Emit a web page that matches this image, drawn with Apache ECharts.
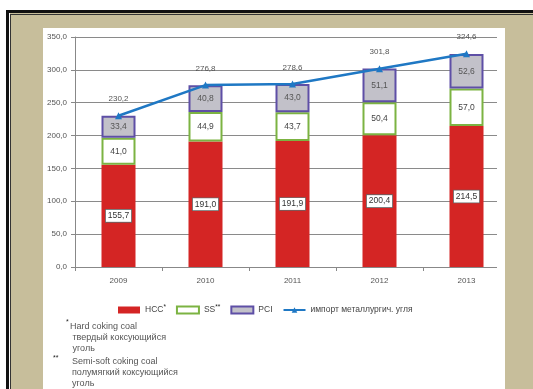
<!DOCTYPE html>
<html>
<head>
<meta charset="utf-8">
<style>
  html, body { margin: 0; padding: 0; background: #ffffff; }
  #chart { width: 533px; height: 389px; }
</style>
<script src="https://cdn.jsdelivr.net/npm/echarts@6/dist/echarts.min.js"></script>
</head>
<body>
<div id="chart"></div>
<script>
// Metallurgical coal imports by coal type, 2009–2013
var years = ['2009', '2010', '2011', '2012', '2013'];
var hccValues = [155.7, 191.0, 191.9, 200.4, 214.5];
var ssValues = [41.0, 44.9, 43.7, 50.4, 57.0];
var pciValues = [33.4, 40.8, 43.0, 51.1, 52.6];
var importTotals = [230.2, 276.8, 278.6, 301.8, 324.6];
var yTicks = { min: 0, max: 350, interval: 50 };

var seriesNames = {
  hcc: 'HCC',
  ss: 'SS',
  pci: 'PCI',
  total: 'импорт металлургич. угля'
};

var BEIGE = '#c7be9b';
var TEXT = '#444';
var FONT = 'Arial, "Liberation Sans", sans-serif';

function fmt(v) {
  return v.toFixed(1).replace('.', ',');
}

var chart = echarts.init(document.getElementById('chart'), null, { renderer: 'canvas' });

var option = {
  backgroundColor: '#ffffff',
  animation: false,
  textStyle: { fontFamily: FONT },
  grid: { left: 75, top: 37, width: 435, height: 230, containLabel: false },
  legend: {
    left: 118,
    top: 304,
    padding: 0,
    itemWidth: 22,
    itemHeight: 7,
    itemGap: 10,
    textStyle: {
      fontSize: 8.5,
      color: TEXT,
      fontFamily: FONT,
      rich: {
        sup: { fontSize: 6.5, color: '#222', verticalAlign: 'top', padding: [0, 0, 5, 0] }
      }
    },
    formatter: function (name) {
      if (name === seriesNames.hcc) return 'HCC{sup|*}';
      if (name === seriesNames.ss) return 'SS{sup|**}';
      return name;
    },
    data: [
      { name: seriesNames.hcc, icon: 'rect' },
      { name: seriesNames.ss, icon: 'rect' },
      { name: seriesNames.pci, icon: 'rect' },
      { name: seriesNames.total }
    ]
  },
  xAxis: {
    type: 'category',
    data: years,
    boundaryGap: true,
    axisLine: { lineStyle: { color: '#888', width: 1 } },
    axisTick: { show: true, length: 4, lineStyle: { color: '#888' } },
    axisLabel: { fontSize: 8, color: '#555', margin: 10, fontFamily: FONT }
  },
  yAxis: {
    type: 'value',
    min: yTicks.min,
    max: yTicks.max,
    interval: yTicks.interval,
    axisLine: { show: true, lineStyle: { color: '#888', width: 1 } },
    axisTick: { show: true, length: 4, lineStyle: { color: '#888' } },
    splitLine: { show: true, lineStyle: { color: '#8a8a8a', width: 1 } },
    axisLabel: {
      fontSize: 8,
      color: '#555',
      margin: 8,
      fontFamily: FONT,
      formatter: function (v) { return fmt(v); }
    }
  },
  series: [
    {
      name: seriesNames.hcc,
      type: 'bar',
      stack: 'coal',
      barWidth: 34,
      data: hccValues,
      itemStyle: { color: '#d42524' },
      label: {
        show: true,
        position: 'inside',
        formatter: function (p) { return fmt(p.value); },
        fontSize: 8.5,
        color: '#333',
        backgroundColor: '#ffffff',
        borderColor: '#666',
        borderWidth: 0.8,
        padding: [2, 2, 1, 2],
        fontFamily: FONT
      }
    },
    {
      name: seriesNames.ss,
      type: 'bar',
      stack: 'coal',
      barWidth: 34,
      data: ssValues,
      itemStyle: { color: '#ffffff', borderColor: '#7cb342', borderWidth: 2 },
      label: {
        show: true,
        position: 'inside',
        formatter: function (p) { return fmt(p.value); },
        fontSize: 8.5,
        color: '#444',
        fontFamily: FONT
      }
    },
    {
      name: seriesNames.pci,
      type: 'bar',
      stack: 'coal',
      barWidth: 34,
      data: pciValues,
      itemStyle: { color: '#c2c1c9', borderColor: '#5e4fa6', borderWidth: 2 },
      label: {
        show: true,
        position: 'inside',
        formatter: function (p) { return fmt(p.value); },
        fontSize: 8.5,
        color: '#555',
        fontFamily: FONT
      }
    },
    {
      name: seriesNames.total,
      type: 'line',
      data: importTotals,
      z: 5,
      symbol: 'triangle',
      symbolSize: 7,
      lineStyle: { color: '#1f78c4', width: 2.5 },
      itemStyle: { color: '#1f78c4' },
      label: {
        show: true,
        position: 'top',
        distance: 9,
        formatter: function (p) { return fmt(p.value); },
        fontSize: 8,
        color: '#555',
        fontFamily: FONT
      }
    }
  ],
  graphic: [
    // beige card inside the frame
    { type: 'rect', z: -20, shape: { x: 10, y: 13, width: 523, height: 376 }, style: { fill: BEIGE } },
    // white chart panel
    { type: 'rect', z: -10, shape: { x: 43, y: 28, width: 462, height: 361 }, style: { fill: '#ffffff' } },
    // trim grid lines at the panel's right margin
    { type: 'rect', z: 100, shape: { x: 497, y: 28, width: 8, height: 361 }, style: { fill: '#ffffff' } },
    { type: 'rect', z: 100, shape: { x: 505, y: 15, width: 28, height: 374 }, style: { fill: BEIGE } },
    // double black frame
    { type: 'rect', z: 101, shape: { x: 6, y: 10, width: 527, height: 3 }, style: { fill: '#111' } },
    { type: 'rect', z: 101, shape: { x: 6, y: 10, width: 3, height: 379 }, style: { fill: '#111' } },
    { type: 'rect', z: 101, shape: { x: 10, y: 14, width: 523, height: 1 }, style: { fill: '#333' } },
    { type: 'rect', z: 101, shape: { x: 10, y: 14, width: 1, height: 375 }, style: { fill: '#333' } },
    // footnotes
    { type: 'text', z: 50, left: 66, top: 319, style: { text: '*', fontSize: 7, fill: '#222', fontFamily: FONT } },
    {
      type: 'text', z: 50, left: 70, top: 321,
      style: {
        text: 'Hard coking coal\n твердый коксующийся\n уголь',
        fontSize: 9, fill: '#555', lineHeight: 11, fontFamily: FONT
      }
    },
    { type: 'text', z: 50, left: 53, top: 355, style: { text: '**', fontSize: 7, fill: '#222', fontFamily: FONT } },
    {
      type: 'text', z: 50, left: 72, top: 356,
      style: {
        text: 'Semi-soft coking coal\nполумягкий коксующийся\nуголь',
        fontSize: 9, fill: '#555', lineHeight: 11, fontFamily: FONT
      }
    }
  ]
};

chart.setOption(option);
</script>
</body>
</html>
